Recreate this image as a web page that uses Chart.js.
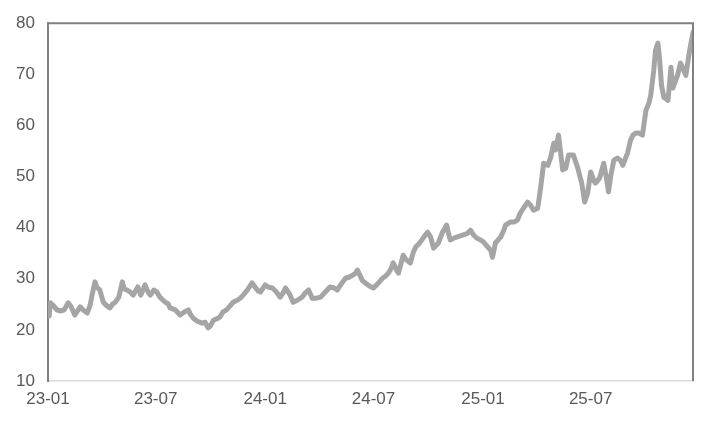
<!DOCTYPE html>
<html>
<head>
<meta charset="utf-8">
<script src="https://cdn.jsdelivr.net/npm/chart.js@4"></script>
<style>
  html, body { margin: 0; padding: 0; background: #ffffff; }
  #wrap { width: 716px; height: 427px; }
</style>
</head>
<body>
<div id="wrap"><canvas id="c" width="716" height="427"></canvas></div>
<script>
// ---- data ----
const dates = [
  "2023-01-03","2023-01-05","2023-01-09","2023-01-16","2023-01-21","2023-01-28","2023-02-04","2023-02-09","2023-02-15","2023-02-24",
  "2023-03-03","2023-03-08","2023-03-13","2023-03-16","2023-03-21","2023-03-24","2023-03-29","2023-04-04","2023-04-10","2023-04-15",
  "2023-04-20","2023-04-24","2023-04-30","2023-05-06","2023-05-09","2023-05-14","2023-05-19","2023-05-24","2023-06-01","2023-06-06",
  "2023-06-13","2023-06-18","2023-06-22","2023-06-28","2023-07-03","2023-07-08","2023-07-17","2023-07-22","2023-07-25","2023-08-03",
  "2023-08-11","2023-08-18","2023-08-25","2023-08-28","2023-09-02","2023-09-09","2023-09-17","2023-09-22","2023-09-27","2023-10-01",
  "2023-10-06","2023-10-14","2023-10-17","2023-10-22","2023-10-28","2023-11-03","2023-11-08","2023-11-15",
  "2023-11-20","2023-11-25","2023-12-02","2023-12-10","2023-12-15","2023-12-20","2023-12-24","2024-01-01","2024-01-06","2024-01-13",
  "2024-01-20","2024-01-26","2024-01-31","2024-02-04","2024-02-11","2024-02-17","2024-02-24","2024-03-03","2024-03-08","2024-03-14",
  "2024-03-20","2024-03-27","2024-04-03","2024-04-11","2024-04-19","2024-04-26","2024-05-01","2024-05-08","2024-05-15","2024-05-21",
  "2024-05-27","2024-06-01","2024-06-04","2024-06-09","2024-06-12","2024-06-17","2024-06-24","2024-07-01","2024-07-08","2024-07-16",
  "2024-07-21","2024-07-26","2024-07-31","2024-08-03","2024-08-09","2024-08-12","2024-08-17","2024-08-20","2024-08-25","2024-09-01",
  "2024-09-06","2024-09-10","2024-09-15","2024-09-18","2024-09-25","2024-09-30","2024-10-05","2024-10-10","2024-10-15","2024-10-18",
  "2024-10-25","2024-10-28","2024-11-01","2024-11-04","2024-11-07","2024-11-14","2024-11-19","2024-11-24","2024-11-29","2024-12-06",
  "2024-12-11",
  "2024-12-16","2024-12-21","2024-12-28","2025-01-02","2025-01-09","2025-01-14","2025-01-17","2025-01-22","2025-01-31","2025-02-05",
  "2025-02-08","2025-02-16","2025-02-23","2025-02-28","2025-03-05","2025-03-10","2025-03-17","2025-03-22","2025-03-27","2025-04-03",
  "2025-04-08","2025-04-13","2025-04-20","2025-04-25","2025-04-30","2025-05-03","2025-05-08","2025-05-11","2025-05-15","2025-05-20",
  "2025-05-25","2025-06-02","2025-06-09","2025-06-16","2025-06-21","2025-06-26","2025-07-01","2025-07-06","2025-07-09","2025-07-16",
  "2025-07-23","2025-07-28","2025-07-31","2025-08-04","2025-08-09","2025-08-15","2025-08-20","2025-08-24","2025-09-01","2025-09-06",
  "2025-09-10","2025-09-15","2025-09-20","2025-09-26","2025-10-02","2025-10-07","2025-10-10","2025-10-15","2025-10-18","2025-10-22",
  "2025-10-25","2025-10-28","2025-11-01","2025-11-08","2025-11-13","2025-11-16","2025-11-24","2025-11-29","2025-12-08","2025-12-13",
  "2025-12-16","2025-12-20"
];
const values = [
  22.7,25.3,24.9,23.9,23.7,23.9,25.3,24.5,22.9,24.5,
  23.7,23.3,24.9,26.8,29.4,28.4,27.8,25.4,24.7,24.3,
  25.1,25.4,26.4,29.4,28.0,27.8,27.4,26.8,28.4,26.8,
  28.8,27.4,26.8,27.8,27.4,26.4,25.4,25.1,24.3,23.9,
  22.9,23.5,23.9,23.1,22.3,21.7,21.3,21.5,20.4,20.8,
  21.9,22.3,22.5,23.5,23.9,24.7,25.4,25.8,
  26.2,26.8,27.8,29.2,28.4,27.6,27.4,28.8,28.4,28.2,
  27.4,26.4,27.2,28.2,27.0,25.4,25.8,26.4,27.2,27.8,
  26.2,26.2,26.4,27.4,28.4,28.2,27.8,29.0,30.1,30.3,
  30.7,31.1,31.7,30.5,29.7,29.2,28.6,28.2,29.0,30.1,
  30.5,31.1,32.1,33.1,31.7,31.1,33.3,34.6,33.7,33.1,
  35.2,36.2,36.8,37.2,38.4,39.1,38.2,36.0,36.6,37.0,
  39.1,39.7,40.5,38.9,37.6,38.0,38.2,38.4,38.6,38.9,
  39.5,
  38.6,38.0,37.6,37.2,36.2,35.6,34.2,37.0,38.2,39.5,
  40.5,41.1,41.1,41.5,42.9,43.8,45.0,44.4,43.4,43.8,
  47.9,52.6,52.2,53.8,56.5,55.2,58.1,55.2,51.3,51.6,
  54.2,54.2,51.8,48.7,45.0,46.8,50.9,49.3,48.7,49.7,
  52.6,49.3,47.0,50.3,53.2,53.6,53.2,52.2,54.6,57.1,
  58.1,58.5,58.5,58.1,63.0,64.4,65.9,70.8,74.7,76.1,
  72.8,67.9,65.5,64.9,71.4,67.3,69.8,72.2,69.8,73.7,
  75.7,78.2
];
const axisStart = "2023-01-01";
const tickDates = ["2023-01-01","2023-07-01","2024-01-01","2024-07-01","2025-01-01","2025-07-01"];
const tickLabels = ["23-01","23-07","24-01","24-07","25-01","25-07"];
const yMin = 10, yMax = 80, yStep = 10;

// ---- helpers ----
const DAY = 86400000;
function dayOf(s) {
  const [a, b] = [s, axisStart].map(t => { const p = t.split("-").map(Number); return Date.UTC(p[0], p[1] - 1, p[2]); });
  return Math.round((a - b) / DAY);
}
const points = dates.map((d, i) => ({ x: dayOf(d), y: values[i] }));
const tickValues = tickDates.map(dayOf);

const frame = {
  id: 'frame',
  afterDraw(chart) {
    const { ctx, chartArea: a } = chart;
    ctx.save();
    ctx.strokeStyle = '#808080';
    ctx.lineWidth = 2;
    ctx.beginPath();
    ctx.moveTo(a.left, a.top);
    ctx.lineTo(a.right, a.top);
    ctx.lineTo(a.right, a.bottom);
    ctx.stroke();
    ctx.restore();
  }
};

new Chart(document.getElementById('c'), {
  type: 'line',
  data: {
    datasets: [{
      data: points,
      borderColor: '#a5a5a5',
      borderWidth: 5,
      pointRadius: 0,
      tension: 0,
      borderJoinStyle: 'round',
      borderCapStyle: 'round'
    }]
  },
  options: {
    responsive: false,
    animation: false,
    parsing: false,
    layout: { padding: { top: 23, right: 23, left: 0, bottom: 0 } },
    plugins: { legend: { display: false }, tooltip: { enabled: false } },
    scales: {
      x: {
        type: 'linear',
        min: 0,
        max: points[points.length - 1].x,
        grid: { display: false, drawTicks: false },
        border: { display: true, color: '#d9d9d9', width: 1.5 },
        afterBuildTicks(scale) { scale.ticks = tickValues.map(v => ({ value: v })); },
        afterFit(scale) { scale.height = 46; },
        ticks: {
          autoSkip: false,
          maxRotation: 0,
          padding: 8,
          color: '#595959',
          font: { family: 'Liberation Sans', size: 17 },
          callback: (v, i) => tickLabels[i]
        }
      },
      y: {
        min: yMin,
        max: yMax,
        grid: { display: false, drawTicks: false },
        border: { display: true, color: '#808080', width: 2 },
        afterFit(scale) { scale.width = 48; },
        ticks: {
          stepSize: yStep,
          padding: 13,
          color: '#595959',
          font: { family: 'Liberation Sans', size: 17 }
        }
      }
    }
  },
  plugins: [frame]
});
</script>
</body>
</html>
